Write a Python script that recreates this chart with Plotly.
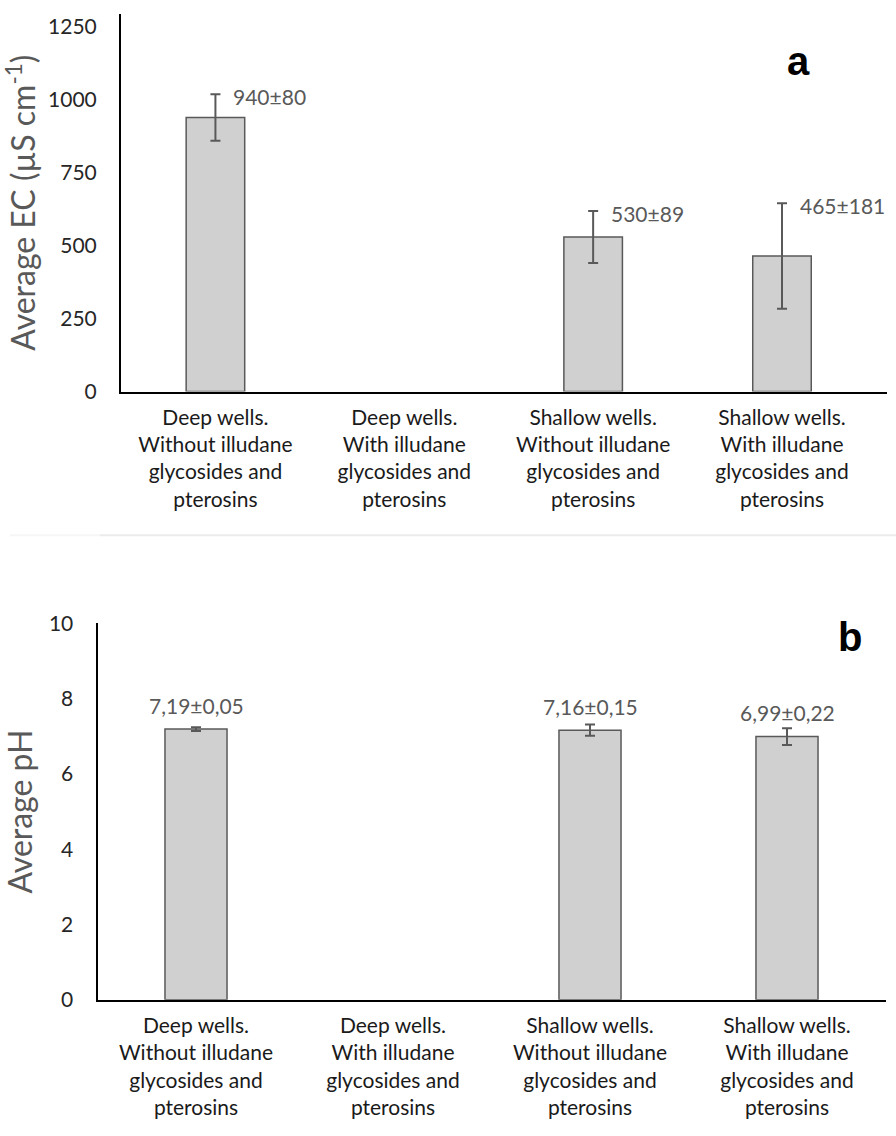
import plotly.graph_objects as go

categories = [
    "Deep wells.<br>Without illudane<br>glycosides and<br>pterosins",
    "Deep wells.<br>With illudane<br>glycosides and<br>pterosins",
    "Shallow wells.<br>Without illudane<br>glycosides and<br>pterosins",
    "Shallow wells.<br>With illudane<br>glycosides and<br>pterosins",
]
ec_values = [940, None, 530, 465]
ec_errors = [80, None, 89, 181]
ec_labels = ["940±80", None, "530±89", "465±181"]
ph_values = [7.19, None, 7.16, 6.99]
ph_errors = [0.05, None, 0.15, 0.22]
ph_labels = ["7,19±0,05", None, "7,16±0,15", "6,99±0,22"]
ec_ticks = [0, 250, 500, 750, 1000, 1250]
ph_ticks = [0, 2, 4, 6, 8, 10]

W, H = 896, 1136
FONT = "Lato, 'Open Sans', sans-serif"
BAR_FILL = "#d0d0d0"
EDGE = "#595959"

fig = go.Figure()
fig.add_trace(go.Bar(
    x=categories, y=ec_values, width=0.31,
    marker=dict(color=BAR_FILL, line=dict(color=EDGE, width=1.5)),
    error_y=dict(type="data", array=ec_errors, visible=True, color=EDGE, thickness=2, width=5),
    xaxis="x", yaxis="y", showlegend=False, hoverinfo="skip",
))
fig.add_trace(go.Bar(
    x=categories, y=ph_values, width=0.315,
    marker=dict(color=BAR_FILL, line=dict(color=EDGE, width=1.5)),
    error_y=dict(type="data", array=ph_errors, visible=True, color=EDGE, thickness=2, width=5),
    xaxis="x2", yaxis="y2", showlegend=False, hoverinfo="skip",
))

ann = []
for c, v, e, t in zip(categories, ec_values, ec_errors, ec_labels):
    if v is None:
        continue
    ann.append(dict(x=c, y=v + e, xref="x", yref="y", text=t, showarrow=False,
                    xanchor="left", yanchor="middle", xshift=16, yshift=-2,
                    font=dict(family=FONT, size=21, color=EDGE)))
for c, v, t in zip(categories, ph_values, ph_labels):
    if v is None:
        continue
    ann.append(dict(x=c, y=v, xref="x2", yref="y2", text=t, showarrow=False,
                    xanchor="center", yanchor="middle", yshift=24,
                    font=dict(family=FONT, size=21, color=EDGE)))
ann.append(dict(x=798 / W, y=1 - 48 / H, xref="paper", yref="paper", text="<b>a</b>",
                showarrow=False, xanchor="center", yanchor="middle",
                font=dict(family="Liberation Sans, Arial, sans-serif", size=40, color="black")))
ann.append(dict(x=850 / W, y=1 - 637 / H, xref="paper", yref="paper", text="<b>b</b>",
                showarrow=False, xanchor="center", yanchor="middle",
                font=dict(family="Liberation Sans, Arial, sans-serif", size=40, color="black")))

tickfont_y = dict(family=FONT, size=21, color="#262626")
tickfont_x = dict(family=FONT, size=21, color="#1a1a1a")
titlefont = dict(family=FONT, size=32, color=EDGE)

fig.update_layout(
    width=W, height=H,
    margin=dict(l=0, r=0, t=0, b=0),
    paper_bgcolor="white", plot_bgcolor="white",
    annotations=ann,
    shapes=[
        dict(type="line", xref="paper", yref="paper", x0=100 / W, x1=1,
             y0=1 - 533 / H, y1=1 - 533 / H, line=dict(color="#ebebeb", width=2)),
        dict(type="line", xref="paper", yref="paper", x0=10 / W, x1=100 / W,
             y0=1 - 533 / H, y1=1 - 533 / H, line=dict(color="#f6f6f6", width=2)),
    ],
    xaxis=dict(domain=[121 / W, 887 / W], anchor="y", showline=True, linecolor="black",
               linewidth=2, ticks="", showgrid=False, tickfont=tickfont_x,
               ticklabelstandoff=6, tickangle=0),
    yaxis=dict(domain=[1 - 386 / H, 1], anchor="x", range=[0, 1295], tickvals=ec_ticks,
               showline=True, linecolor="black", linewidth=2, ticks="", showgrid=False,
               zeroline=False, tickfont=tickfont_y, ticklabelstandoff=18,
               title=dict(text="Average EC (µS cm<sup>-1</sup>)", font=titlefont, standoff=26)),
    xaxis2=dict(domain=[97.5 / W, 885.5 / W], anchor="y2", showline=True, linecolor="black",
                linewidth=2, ticks="", showgrid=False, tickfont=tickfont_x,
                ticklabelstandoff=6, tickangle=0),
    yaxis2=dict(domain=[1 - 1008 / H, 1 - 623 / H], anchor="x2", range=[0, 10], tickvals=ph_ticks,
                showline=True, linecolor="black", linewidth=2, ticks="", showgrid=False,
                zeroline=False, tickfont=tickfont_y, ticklabelstandoff=18,
                title=dict(text="Average pH", font=titlefont, standoff=26)),
)

fig.write_html("out.html", config={"displayModeBar": False},
               post_script="document.body.style.margin='0';document.body.style.overflow='hidden';")
